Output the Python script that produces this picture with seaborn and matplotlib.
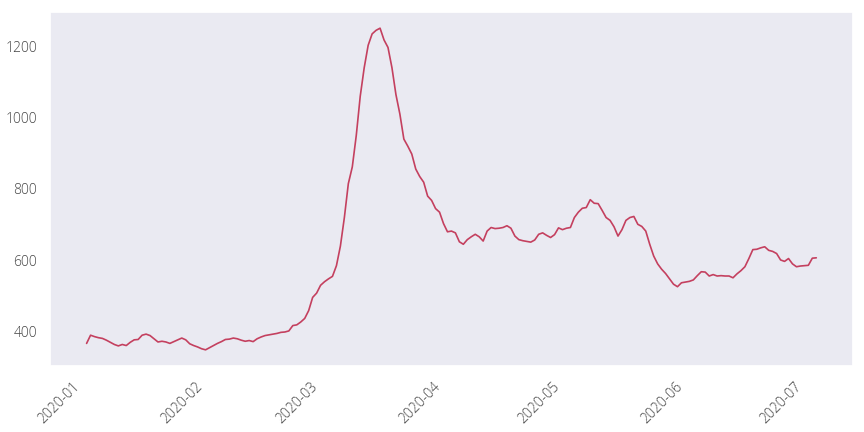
import pandas as pd
import seaborn as sns
import matplotlib.pyplot as plt
import matplotlib.dates as mdates

sns.set_theme(style='dark')
plt.rcParams['font.family'] = ['Open Sans', 'DejaVu Sans']
plt.rcParams['font.weight'] = 'light'

# Daily values, 2020-01-02 .. 2020-07-04
start_date = '2020-01-02'
values = [
    367, 390, 386, 383, 381, 376, 370, 364, 360, 364,
    361, 370, 377, 378, 390, 393, 389, 380, 371, 373,
    371, 367, 372, 377, 382, 377, 366, 361, 357, 352,
    349, 355, 361, 367, 372, 378, 379, 382, 380, 376,
    373, 375, 372, 380, 385, 389, 391, 393, 395, 398,
    399, 402, 417, 419, 427, 437, 459, 496, 508, 530,
    540, 548, 555, 585, 640, 720, 815, 862, 950, 1060,
    1140, 1203, 1235, 1245, 1251, 1218, 1197, 1140, 1065, 1010,
    940, 920, 898, 856, 835, 819, 780, 768, 745, 735,
    703, 680, 682, 677, 652, 645, 658, 666, 673, 666,
    654, 682, 692, 689, 690, 692, 697, 690, 668, 658,
    655, 653, 651, 657, 673, 677, 670, 664, 672, 691,
    686, 690, 692, 720, 735, 746, 748, 770, 760, 759,
    740, 720, 712, 694, 668, 686, 712, 720, 723, 701,
    695, 682, 645, 612, 590, 575, 563, 548, 533, 526,
    537, 539, 541, 545, 557, 568, 567, 556, 560, 556,
    557, 556, 556, 551, 562, 571, 582, 605, 630, 631,
    635, 638, 628, 625, 619, 601, 597, 605, 590, 582,
    584, 585, 586, 606, 607,
]
dates = pd.date_range(start_date, periods=len(values), freq='D')
df = pd.DataFrame({'date': dates, 'value': values})

fig, ax = plt.subplots(figsize=(8.64, 4.32), dpi=100)
sns.lineplot(data=df, x='date', y='value', color='#c4405f', linewidth=1.2, ax=ax)

ax.xaxis.set_major_locator(mdates.MonthLocator())
ax.xaxis.set_major_formatter(mdates.DateFormatter('%Y-%m'))
plt.xticks(rotation=45, ha='right')
ax.tick_params(labelsize=10, labelcolor='#444444')
ax.set_xlabel('')
ax.set_ylabel('')

fig.subplots_adjust(left=0.058, right=0.987, top=0.972, bottom=0.153)
plt.savefig('out.png', dpi=100)
